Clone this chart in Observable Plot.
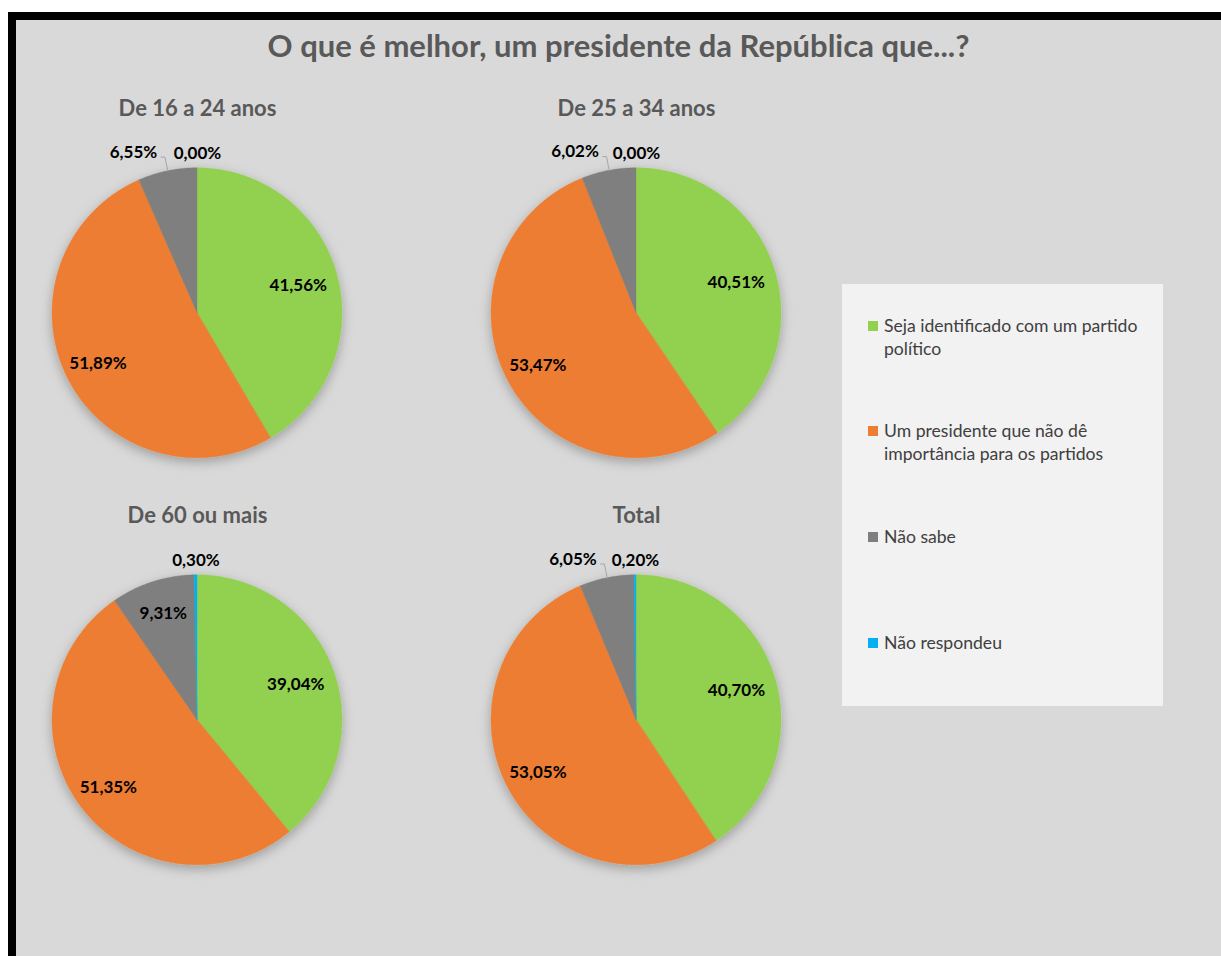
<!DOCTYPE html>
<html>
<head>
<meta charset="utf-8">
<script src="https://cdn.jsdelivr.net/npm/d3@7"></script>
<script src="https://cdn.jsdelivr.net/npm/@observablehq/plot@0.6"></script>
<style>
  html, body { margin: 0; padding: 0; background: #ffffff; }
  body { width: 1221px; height: 956px; position: relative; overflow: hidden; font-family: Lato, "Open Sans", sans-serif; }
  #panel { position: absolute; left: 8px; top: 12px; width: 1205px; height: 936px; border-left: 8px solid #000; border-top: 8px solid #000; background: #d9d9d9; }
  #title { position: absolute; left: 0; top: 8px; width: 1205px; text-align: center; font-size: 31px; line-height: 34px; font-weight: bold; color: #595959; }
  .pie { position: absolute; }
  #legend { position: absolute; left: 826px; top: 264px; width: 321px; height: 422px; background: #f2f2f2; }
  .item { position: absolute; left: 26px; width: 290px; }
  .sw { position: absolute; left: 0; top: 7px; width: 10px; height: 10px; }
  .lt { position: absolute; left: 16px; top: 0; width: 275px; font-size: 17.6px; line-height: 23px; color: #404040; }
</style>
</head>
<body>
<div id="panel">
  <div id="title"></div>
  <div id="legend"></div>
</div>
<script>
// ---- data ----
const chartTitle = "O que é melhor, um presidente da República que...?";
const groups = ["De 16 a 24 anos", "De 25 a 34 anos", "De 60 ou mais", "Total"];
const categories = [
  "Seja identificado com um partido político",
  "Um presidente que não dê importância para os partidos",
  "Não sabe",
  "Não respondeu"
];
const identificado = [41.56, 40.51, 39.04, 40.70];
const naoImporta   = [51.89, 53.47, 51.35, 53.05];
const naoSabe      = [6.55, 6.02, 9.31, 6.05];
const naoRespondeu = [0.00, 0.00, 0.30, 0.20];
const colors = ["#92d050", "#ed7d31", "#7f7f7f", "#00b0f0"];

// ---- layout ----
const series = [identificado, naoImporta, naoSabe, naoRespondeu];
const R = 145; // px per unit radius
const xDom = [-1.2, 1.2], yDom = [-1.25, 1.55];
const W = (xDom[1] - xDom[0]) * R, H = (yDom[1] - yDom[0]) * R;
const pieCenters = [[181, 293], [620, 293], [181, 700], [620, 700]]; // panel coords
const panel = document.getElementById("panel");
document.getElementById("title").textContent = chartTitle;

const fmt = v => v.toFixed(2).replace(".", ",") + "%";
const deg = Math.PI / 180;

groups.forEach((g, gi) => {
  const slices = categories.map((c, ci) => ({cat: c, ci, value: series[ci][gi]}));
  const arcs = d3.pie().sort(null).value(d => d.value)(slices);
  const wedge = [];
  const labels = [];
  const leaders = [];
  arcs.forEach(a => {
    const d = a.data;
    if (a.endAngle > a.startAngle) {
      const n = Math.max(2, Math.ceil((a.endAngle - a.startAngle) / (0.5 * deg)));
      for (let k = 0; k <= n; k++) {
        const t = a.startAngle + (a.endAngle - a.startAngle) * k / n;
        wedge.push({cat: d.cat, x: Math.sin(t), y: Math.cos(t)});
      }
    }
    const mid = (a.startAngle + a.endAngle) / 2;
    if (d.value < 1) {
      labels.push({x: 1.1 * Math.sin(mid), y: 1.1 * Math.cos(mid), text: fmt(d.value)});
    } else if (d.value < 8) {
      const la = mid - 10 * deg;
      const lx = 1.19 * Math.sin(la), ly = 1.19 * Math.cos(la);
      labels.push({x: lx, y: ly, text: fmt(d.value)});
      const p1 = [1.1 * Math.sin(mid), 1.1 * Math.cos(mid)];
      leaders.push({id: d.cat, x: Math.sin(mid), y: Math.cos(mid)});
      leaders.push({id: d.cat, x: p1[0], y: p1[1]});
      leaders.push({id: d.cat, x: lx + 0.19, y: p1[1]});
    } else {
      const r = d.ci === 0 ? 0.72 : 0.77;
      labels.push({x: r * Math.sin(mid), y: r * Math.cos(mid), text: fmt(d.value)});
    }
  });

  const chart = Plot.plot({
    width: W, height: H, margin: 0,
    x: {domain: xDom, axis: null},
    y: {domain: yDom, axis: null},
    color: {domain: categories, range: colors},
    style: {background: "transparent", overflow: "visible", fontFamily: "Lato, 'Open Sans', sans-serif"},
    marks: [
      Plot.area(wedge, {x1: "x", y1: "y", x2: () => 0, y2: () => 0, z: "cat", fill: "cat", stroke: "cat", strokeWidth: 0.4, curve: "linear"}),
      Plot.line(leaders, {x: "x", y: "y", z: "id", stroke: "#a6a6a6", strokeWidth: 1}),
      Plot.text(labels, {x: "x", y: "y", text: "text", fontSize: 17, fontWeight: "bold", fill: "#000"}),
      Plot.text([g], {frameAnchor: "top", dy: 12, text: d => d, fontSize: 22, fontWeight: "bold", fill: "#595959"})
    ]
  });
  // soft shadow like the original
  const ns = "http://www.w3.org/2000/svg";
  const defs = document.createElementNS(ns, "defs");
  const fid = "shadow" + gi;
  defs.innerHTML = `<filter id="${fid}" x="-30%" y="-30%" width="160%" height="160%"><feDropShadow dx="0" dy="4" stdDeviation="6" flood-color="#000" flood-opacity="0.28"/></filter>`;
  chart.insertBefore(defs, chart.firstChild);
  const areaG = chart.querySelector('g[aria-label="area"]');
  if (areaG) areaG.setAttribute("filter", `url(#${fid})`);
  const [cx, cy] = pieCenters[gi];
  chart.classList.add("pie");
  chart.style.left = (cx - (0 - xDom[0]) * R) + "px";
  chart.style.top = (cy - yDom[1] * R) + "px";
  panel.appendChild(chart);
});

// legend
const legend = document.getElementById("legend");
const itemTops = [30, 135, 241, 347];
categories.forEach((c, i) => {
  const it = document.createElement("div");
  it.className = "item";
  it.style.top = itemTops[i] + "px";
  it.innerHTML = `<div class="sw" style="background:${colors[i]}"></div><div class="lt"></div>`;
  it.querySelector(".lt").textContent = c;
  legend.appendChild(it);
});
</script>
</body>
</html>
